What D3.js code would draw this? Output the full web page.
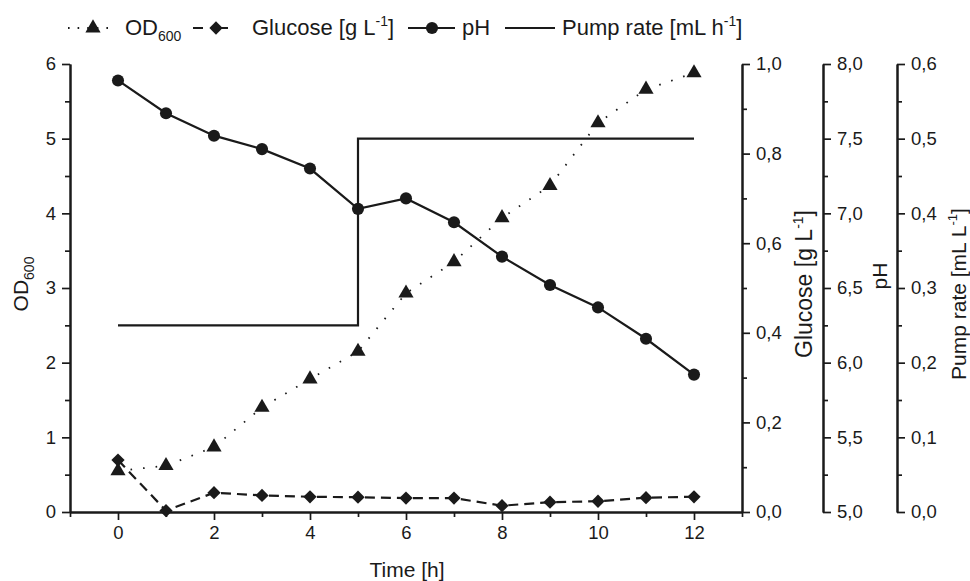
<!DOCTYPE html>
<html>
<head>
<meta charset="utf-8">
<script src="https://cdn.jsdelivr.net/npm/d3@7/dist/d3.min.js"></script>
<style>
  html, body { margin: 0; padding: 0; background: #fff; }
  svg { display: block; font-family: "Liberation Sans", Arial, sans-serif; }
</style>
</head>
<body>
<svg id="chart" width="970" height="581"></svg>
<script>
// ---- data ----
const time = [0, 1, 2, 3, 4, 5, 6, 7, 8, 9, 10, 11, 12];
const od600 = [0.55, 0.62, 0.87, 1.40, 1.78, 2.15, 2.93, 3.35, 3.94, 4.37, 5.21, 5.66, 5.88];
const glucose = [0.116, 0.003, 0.043, 0.037, 0.034, 0.033, 0.031, 0.031, 0.014, 0.022, 0.024, 0.032, 0.034];
const ph = [7.89, 7.67, 7.52, 7.43, 7.30, 7.03, 7.10, 6.94, 6.71, 6.52, 6.37, 6.16, 5.92];
const pumpTime = [0, 5, 5, 12];
const pumpRate = [0.25, 0.25, 0.5, 0.5];

const xTicks = [0, 2, 4, 6, 8, 10, 12];
const xMinorTicks = [-1, 1, 3, 5, 7, 9, 11, 13];
const odTicks = [0, 1, 2, 3, 4, 5, 6];
const glucoseTicks = [0, 0.2, 0.4, 0.6, 0.8, 1.0];
const phTicks = [5.0, 5.5, 6.0, 6.5, 7.0, 7.5, 8.0];
const pumpTicks = [0, 0.1, 0.2, 0.3, 0.4, 0.5, 0.6];

// ---- layout ----
const INK = "#1a1a1a";
const svg = d3.select("#chart");
const plotTop = 64, plotBottom = 512;
const x = d3.scaleLinear().domain([-1, 13]).range([70, 742]);
const yOD = d3.scaleLinear().domain([0, 6]).range([plotBottom, plotTop]);
const yGlu = d3.scaleLinear().domain([0, 1]).range([plotBottom, plotTop]);
const yPH = d3.scaleLinear().domain([5, 8]).range([plotBottom, plotTop]);
const yPump = d3.scaleLinear().domain([0, 0.6]).range([plotBottom, plotTop]);

const loc = d3.formatLocale({decimal: ",", thousands: ".", grouping: [3], currency: ["", ""]});
const f1 = loc.format(".1f");
const mids = arr => arr.slice(1).map((v, i) => (v + arr[i]) / 2);

function styleAxis(g) {
  g.selectAll("path.domain").attr("stroke", INK).attr("stroke-width", 2);
  g.selectAll(".tick line").attr("stroke", INK).attr("stroke-width", 1.7);
  g.selectAll(".tick text").attr("fill", INK).attr("font-size", 18.5)
    .attr("font-family", "'Liberation Sans', Arial, sans-serif");
}

function drawAxis(axisFn, scale, majors, minors, fmt, transform) {
  const gMinor = svg.append("g").attr("transform", transform)
    .call(axisFn(scale).tickValues(minors).tickSize(5).tickSizeOuter(0).tickFormat(""));
  styleAxis(gMinor);
  const gMajor = svg.append("g").attr("transform", transform)
    .call(axisFn(scale).tickValues(majors).tickSize(8).tickPadding(6).tickSizeOuter(0).tickFormat(fmt));
  styleAxis(gMajor);
}

// bottom axis
drawAxis(d3.axisBottom, x, xTicks, xMinorTicks, d3.format("d"), `translate(0,${plotBottom})`);
// left axis
drawAxis(d3.axisLeft, yOD, odTicks, mids(odTicks), d3.format("d"), `translate(${x.range()[0]},0)`);
// right axes
drawAxis(d3.axisRight, yGlu, glucoseTicks, mids(glucoseTicks), f1, `translate(742,0)`);
drawAxis(d3.axisRight, yPH, phTicks, mids(phTicks), f1, `translate(823,0)`);
drawAxis(d3.axisRight, yPump, pumpTicks, mids(pumpTicks), f1, `translate(897,0)`);

// ---- titles ----
const tfs = 21;
function rotTitle(cx, cy, fs, parts) {
  const t = svg.append("text")
    .attr("transform", `translate(${cx},${cy}) rotate(-90)`)
    .attr("text-anchor", "middle").attr("fill", INK).attr("font-size", fs);
  parts(t);
}
svg.append("text").attr("x", 407).attr("y", 577).attr("text-anchor", "middle")
  .attr("fill", INK).attr("font-size", tfs).text("Time [h]");

rotTitle(28, 284, tfs, t => {
  t.append("tspan").text("OD");
  t.append("tspan").attr("font-size", 14).attr("dy", 6).text("600");
});
rotTitle(812, 284, 23, t => {
  t.append("tspan").text("Glucose [g L");
  t.append("tspan").attr("font-size", 14).attr("dy", -9).text("-1");
  t.append("tspan").attr("dy", 9).text("]");
});
rotTitle(887, 276, tfs, t => { t.text("pH"); });
rotTitle(966, 294, tfs, t => {
  t.append("tspan").text("Pump rate [mL L");
  t.append("tspan").attr("font-size", 13).attr("dy", -9).text("-1");
  t.append("tspan").attr("dy", 9).text("]");
});

// ---- series ----
const idx = d3.range(time.length);

// pump rate step line
svg.append("path")
  .attr("d", d3.line().x(i => x(pumpTime[i])).y(i => yPump(pumpRate[i]))(d3.range(pumpTime.length)))
  .attr("fill", "none").attr("stroke", INK).attr("stroke-width", 2.2);

// OD600 dotted
svg.append("path")
  .attr("d", d3.line().x(i => x(time[i])).y(i => yOD(od600[i]))(idx))
  .attr("fill", "none").attr("stroke", INK).attr("stroke-width", 1.8)
  .attr("stroke-dasharray", "1.6 11").attr("stroke-linecap", "butt");

// glucose dashed
svg.append("path")
  .attr("d", d3.line().x(i => x(time[i])).y(i => yGlu(glucose[i]))(idx))
  .attr("fill", "none").attr("stroke", INK).attr("stroke-width", 2.2)
  .attr("stroke-dasharray", "10 6");

// pH solid
svg.append("path")
  .attr("d", d3.line().x(i => x(time[i])).y(i => yPH(ph[i]))(idx))
  .attr("fill", "none").attr("stroke", INK).attr("stroke-width", 2.2);

const tri = d3.symbol().type(d3.symbolTriangle).size(100)();
const dia = d3.symbol().type(d3.symbolSquare).size(88)();
const cir = d3.symbol().type(d3.symbolCircle).size(115)();

svg.append("g").selectAll("path").data(idx).join("path")
  .attr("d", tri).attr("fill", INK)
  .attr("transform", i => `translate(${x(time[i])},${yOD(od600[i])})`);
svg.append("g").selectAll("path").data(idx).join("path")
  .attr("d", dia).attr("fill", INK)
  .attr("transform", i => `translate(${x(time[i])},${yGlu(glucose[i])}) rotate(45)`);
svg.append("g").selectAll("path").data(idx).join("path")
  .attr("d", cir).attr("fill", INK)
  .attr("transform", i => `translate(${x(time[i])},${yPH(ph[i])})`);

// ---- legend ----
const ly = 28, lBase = 35, lfs = 22;
const lg = svg.append("g");
// OD600
lg.append("line").attr("x1", 68).attr("x2", 116).attr("y1", ly).attr("y2", ly)
  .attr("stroke", INK).attr("stroke-width", 1.8).attr("stroke-dasharray", "1.6 8");
lg.append("path").attr("d", tri).attr("fill", INK).attr("transform", `translate(93,${ly})`);
const t1 = lg.append("text").attr("x", 125).attr("y", lBase).attr("fill", INK).attr("font-size", lfs);
t1.append("tspan").text("OD");
t1.append("tspan").attr("font-size", 14).attr("dy", 6).text("600");
// Glucose
lg.append("line").attr("x1", 193).attr("x2", 238).attr("y1", ly).attr("y2", ly)
  .attr("stroke", INK).attr("stroke-width", 2.2).attr("stroke-dasharray", "10 15 10");
lg.append("path").attr("d", dia).attr("fill", INK).attr("transform", `translate(216,${ly}) rotate(45)`);
const t2 = lg.append("text").attr("x", 252).attr("y", lBase).attr("fill", INK).attr("font-size", lfs);
t2.append("tspan").text("Glucose [g L");
t2.append("tspan").attr("font-size", 14).attr("dy", -9).text("-1");
t2.append("tspan").attr("dy", 9).text("]");
// pH
lg.append("line").attr("x1", 408).attr("x2", 455).attr("y1", ly).attr("y2", ly)
  .attr("stroke", INK).attr("stroke-width", 2.2);
lg.append("path").attr("d", cir).attr("fill", INK).attr("transform", `translate(432,${ly})`);
lg.append("text").attr("x", 462).attr("y", lBase).attr("fill", INK).attr("font-size", lfs).text("pH");
// Pump
lg.append("line").attr("x1", 505).attr("x2", 555).attr("y1", ly).attr("y2", ly)
  .attr("stroke", INK).attr("stroke-width", 2.2);
const t4 = lg.append("text").attr("x", 562).attr("y", lBase).attr("fill", INK).attr("font-size", lfs);
t4.append("tspan").text("Pump rate [mL h");
t4.append("tspan").attr("font-size", 14).attr("dy", -9).text("-1");
t4.append("tspan").attr("dy", 9).text("]");
</script>
</body>
</html>
